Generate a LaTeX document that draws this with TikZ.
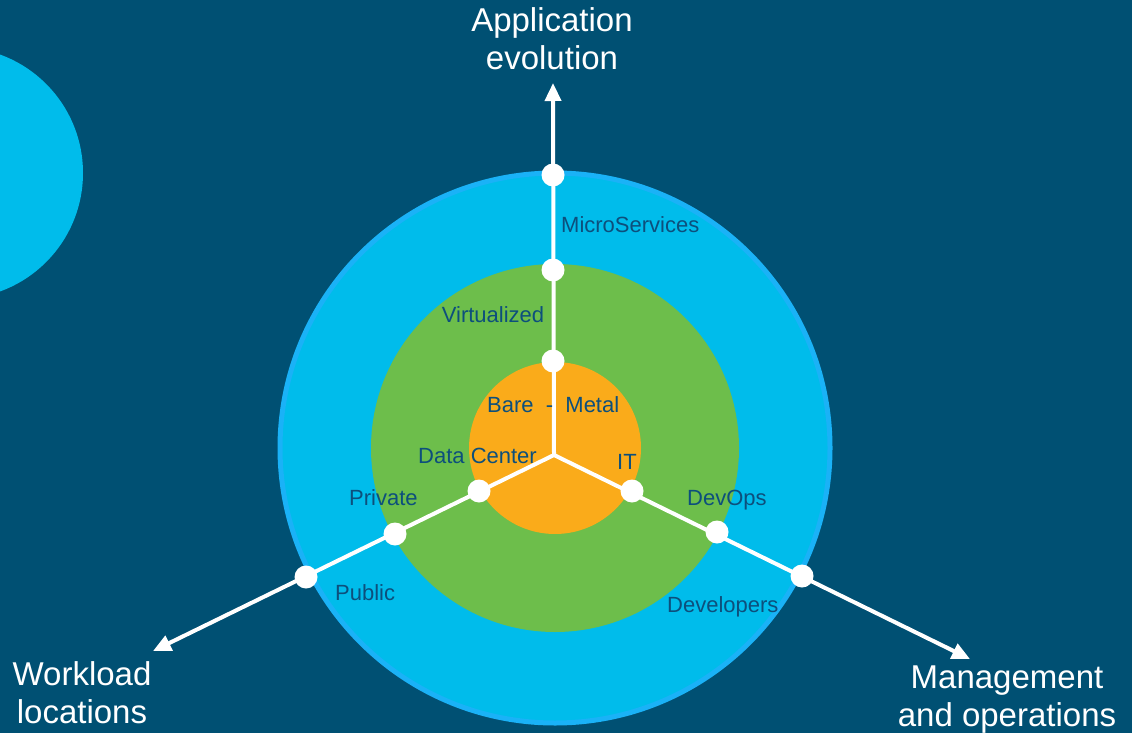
\documentclass[tikz,border=0pt]{standalone}
\usepackage{fontspec}
\setmainfont{Liberation Sans}
\usetikzlibrary{arrows.meta}
\definecolor{bg}{HTML}{005073}
\definecolor{cblue}{HTML}{00BCEB}
\definecolor{cring}{HTML}{1AB2F7}
\definecolor{cgreen}{HTML}{6DBE4B}
\definecolor{corange}{HTML}{FAAB1A}
\definecolor{ctext}{HTML}{0D4F7C}
\begin{document}
\begin{tikzpicture}[x=1pt,y=-1pt,
  axisline/.style={white, line width=4pt, -{Triangle[length=18pt,width=16pt]}},
  dot/.style={circle, fill=white, minimum size=23pt, inner sep=0pt},
  lbl/.style={text=ctext, font=\fontsize{22}{26}\selectfont, inner sep=0pt},
  outerlbl/.style={text=white, font=\fontsize{33}{38}\selectfont, align=center, inner sep=0pt}]
\fill[bg] (0,0) rectangle (1132,733);
\useasboundingbox (0,0) rectangle (1132,733);
\begin{scope}
  \clip (0,0) rectangle (1132,733);
  \fill[cblue] (-43,173) circle[radius=126];
  \filldraw[fill=cblue, draw=cring, line width=5pt] (555,448) circle[radius=275];
  \fill[cgreen] (555,448) circle[radius=184];
  \fill[corange] (555,448) circle[radius=86];
\end{scope}
% axes
\coordinate (J) at (554,455);
\coordinate (tT) at (553,83);
\coordinate (tL) at (153,651);
\coordinate (tR) at (970,659);
\draw[axisline] (J) -- (tT);
\draw[axisline] (J) -- (tL);
\draw[axisline] (J) -- (tR);
% dots
\node[dot] (t1) at (553,361) {};
\node[dot] (t2) at (553,270) {};
\node[dot] (t3) at (553,175) {};
\node[dot] (l1) at (479,491) {};
\node[dot] (l2) at (395,534) {};
\node[dot] (l3) at (306,577) {};
\node[dot] (r1) at (632,491) {};
\node[dot] (r2) at (717,532) {};
\node[dot] (r3) at (802,576) {};
% labels
\node[lbl, anchor=base west] (ms) at (561,232) {MicroServices};
\node[lbl, anchor=base] (vi) at (493,322) {Virtualized};
\node[lbl, anchor=base west] (bm) at (487,412) {Bare\ \ -\ \ Metal};
\node[lbl, anchor=base west] (dc) at (418,463) {Data Center};
\node[lbl, anchor=base west] (it) at (617,469) {IT};
\node[lbl, anchor=base west] (pr) at (349,505) {Private};
\node[lbl, anchor=base west] (dv) at (687,505) {DevOps};
\node[lbl, anchor=base west] (pu) at (335,600) {Public};
\node[lbl, anchor=base west] (de) at (667,612) {Developers};
% outer labels
\node[outerlbl, anchor=north] (app) at (552,7) {Application\\evolution};
\node[outerlbl, anchor=north] (wl) at (82,661) {Workload\\locations};
\node[outerlbl, anchor=north] (mg) at (1007,666) {Management\\and operations};
\end{tikzpicture}
\end{document}
